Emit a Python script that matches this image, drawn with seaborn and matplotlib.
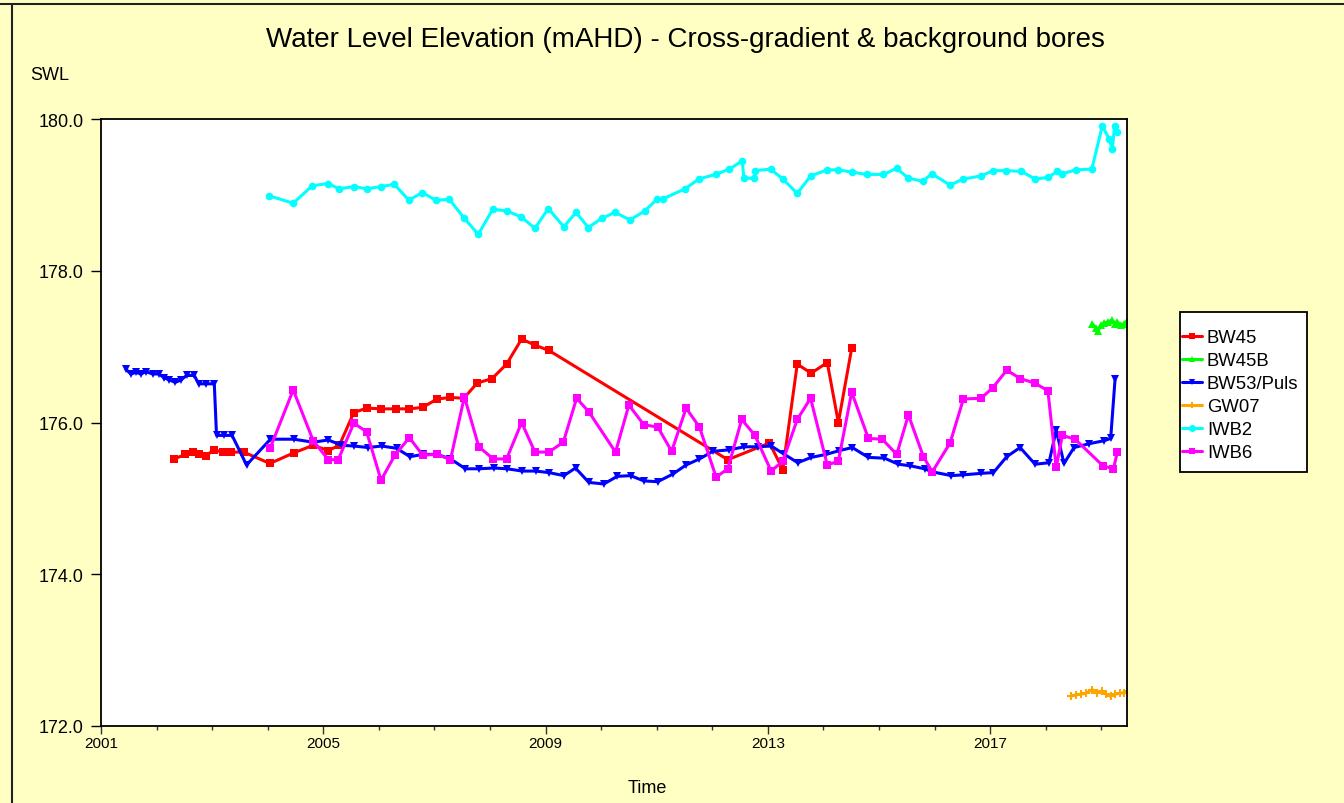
import pandas as pd
import matplotlib
matplotlib.use("Agg")
import matplotlib.pyplot as plt
import matplotlib.ticker as mticker
from matplotlib.lines import Line2D
from matplotlib.patches import Rectangle
import seaborn as sns

# ---------------------------------------------
# DATA (decimal year, SWL in mAHD)
# ---------------------------------------------
bw45_year = [2002.32, 2002.52, 2002.66, 2002.76, 2002.89, 2003.03, 2003.19, 2003.34,
             2003.57, 2004.04, 2004.47, 2004.82, 2005.09, 2005.29, 2005.55, 2005.78,
             2006.04, 2006.31, 2006.55, 2006.79, 2007.05, 2007.29, 2007.53, 2007.77,
             2008.04, 2008.30, 2008.57, 2008.81, 2009.06, 2012.28, 2013.03, 2013.27,
             2013.53, 2013.78, 2014.07, 2014.27, 2014.51]
bw45_swl = [175.52, 175.58, 175.61, 175.58, 175.56, 175.64, 175.61, 175.61,
            175.61, 175.46, 175.60, 175.70, 175.63, 175.70, 176.13, 176.19,
            176.18, 176.18, 176.18, 176.20, 176.31, 176.33, 176.32, 176.52,
            176.58, 176.77, 177.10, 177.02, 176.95, 175.51, 175.73, 175.38,
            176.77, 176.65, 176.79, 176.00, 176.98]

bw45b_year = [2018.84, 2018.90, 2018.95, 2018.99, 2019.05, 2019.13, 2019.19,
              2019.25, 2019.29, 2019.35, 2019.41, 2019.47, 2019.50]
bw45b_swl = [177.30, 177.25, 177.21, 177.28, 177.31, 177.33, 177.35,
             177.30, 177.33, 177.28, 177.30, 177.34, 177.37]

bw53_year = [2001.45, 2001.54, 2001.63, 2001.72, 2001.81, 2001.93, 2002.04, 2002.14,
             2002.23, 2002.34, 2002.44, 2002.54, 2002.68, 2002.76, 2002.89, 2003.04,
             2003.08, 2003.21, 2003.36, 2003.62, 2004.05, 2004.47, 2004.82, 2005.09,
             2005.33, 2005.55, 2005.81, 2006.05, 2006.32, 2006.56, 2006.80, 2007.05,
             2007.29, 2007.56, 2007.80, 2008.07, 2008.31, 2008.58, 2008.82, 2009.06,
             2009.33, 2009.54, 2009.78, 2010.05, 2010.29, 2010.53, 2010.77, 2011.02,
             2011.29, 2011.53, 2011.77, 2012.01, 2012.31, 2012.58, 2012.82, 2013.06,
             2013.30, 2013.54, 2013.78, 2014.05, 2014.29, 2014.52, 2014.81, 2015.10,
             2015.35, 2015.56, 2015.82, 2015.96, 2016.30, 2016.52, 2016.84, 2017.06,
             2017.30, 2017.54, 2017.81, 2018.06, 2018.19, 2018.33, 2018.51, 2018.78,
             2019.05, 2019.17, 2019.25]
bw53_swl = [176.70, 176.64, 176.66, 176.64, 176.67, 176.64, 176.64, 176.59,
            176.56, 176.53, 176.56, 176.62, 176.62, 176.51, 176.51, 176.51,
            175.83, 175.83, 175.83, 175.44, 175.78, 175.78, 175.74, 175.77,
            175.70, 175.69, 175.67, 175.69, 175.66, 175.55, 175.58, 175.58,
            175.52, 175.39, 175.39, 175.40, 175.39, 175.36, 175.36, 175.34,
            175.30, 175.40, 175.21, 175.19, 175.29, 175.30, 175.23, 175.22,
            175.32, 175.44, 175.52, 175.62, 175.64, 175.68, 175.68, 175.69,
            175.58, 175.47, 175.54, 175.58, 175.63, 175.67, 175.54, 175.53,
            175.45, 175.43, 175.39, 175.35, 175.30, 175.31, 175.33, 175.34,
            175.55, 175.67, 175.45, 175.47, 175.90, 175.46, 175.67, 175.72,
            175.76, 175.79, 176.58]

gw07_year = [2018.45, 2018.54, 2018.63, 2018.72, 2018.84, 2018.93, 2019.01,
             2019.09, 2019.17, 2019.25, 2019.33, 2019.41, 2019.49]
gw07_swl = [172.39, 172.41, 172.42, 172.43, 172.48, 172.44, 172.46,
            172.42, 172.39, 172.42, 172.43, 172.44, 172.46]

iwb2_year = [2004.02, 2004.46, 2004.80, 2005.08, 2005.29, 2005.56, 2005.78, 2006.04,
             2006.28, 2006.54, 2006.78, 2007.03, 2007.27, 2007.53, 2007.79, 2008.05,
             2008.30, 2008.56, 2008.81, 2009.05, 2009.33, 2009.55, 2009.77, 2010.01,
             2010.25, 2010.52, 2010.79, 2011.00, 2011.12, 2011.51, 2011.76, 2012.06,
             2012.31, 2012.54, 2012.57, 2012.76, 2012.77, 2013.05, 2013.27, 2013.53,
             2013.77, 2014.07, 2014.27, 2014.52, 2014.78, 2015.08, 2015.32, 2015.53,
             2015.79, 2015.95, 2016.28, 2016.52, 2016.84, 2017.05, 2017.29, 2017.56,
             2017.81, 2018.04, 2018.21, 2018.30, 2018.54, 2018.83, 2019.02, 2019.14,
             2019.20, 2019.24, 2019.29]
iwb2_swl = [178.99, 178.89, 179.12, 179.15, 179.08, 179.11, 179.08, 179.11,
            179.14, 178.93, 179.03, 178.93, 178.94, 178.70, 178.48, 178.81,
            178.79, 178.71, 178.56, 178.82, 178.58, 178.77, 178.57, 178.69,
            178.77, 178.67, 178.79, 178.94, 178.95, 179.08, 179.21, 179.27,
            179.34, 179.45, 179.22, 179.22, 179.32, 179.34, 179.21, 179.02,
            179.25, 179.33, 179.33, 179.30, 179.27, 179.27, 179.35, 179.22,
            179.18, 179.28, 179.13, 179.21, 179.25, 179.32, 179.32, 179.31,
            179.21, 179.23, 179.31, 179.28, 179.33, 179.34, 179.91, 179.74,
            179.60, 179.91, 179.83]

iwb6_year = [2004.05, 2004.46, 2004.82, 2005.09, 2005.27, 2005.55, 2005.78, 2006.04,
             2006.29, 2006.55, 2006.79, 2007.05, 2007.29, 2007.54, 2007.80, 2008.06,
             2008.30, 2008.57, 2008.81, 2009.06, 2009.32, 2009.56, 2009.78, 2010.26,
             2010.50, 2010.77, 2011.02, 2011.27, 2011.53, 2011.77, 2012.07, 2012.28,
             2012.53, 2012.77, 2013.06, 2013.27, 2013.53, 2013.77, 2014.07, 2014.27,
             2014.51, 2014.81, 2015.06, 2015.32, 2015.53, 2015.80, 2015.96, 2016.28,
             2016.52, 2016.84, 2017.05, 2017.30, 2017.54, 2017.80, 2018.04, 2018.19,
             2018.30, 2018.53, 2019.03, 2019.22, 2019.29]
iwb6_swl = [175.67, 176.43, 175.76, 175.51, 175.51, 175.99, 175.88, 175.24,
            175.57, 175.80, 175.57, 175.58, 175.51, 176.34, 175.68, 175.52,
            175.52, 176.00, 175.61, 175.61, 175.74, 176.32, 176.14, 175.61,
            176.23, 175.97, 175.94, 175.62, 176.19, 175.94, 175.28, 175.39,
            176.04, 175.83, 175.36, 175.49, 176.04, 176.32, 175.44, 175.49,
            176.40, 175.79, 175.78, 175.58, 176.10, 175.55, 175.35, 175.73,
            176.31, 176.32, 176.46, 176.69, 176.58, 176.52, 176.42, 175.41,
            175.83, 175.78, 175.43, 175.39, 175.61]

bores = ["BW45", "BW45B", "BW53/Puls", "GW07", "IWB2", "IWB6"]
series = {
    "BW45": (bw45_year, bw45_swl),
    "BW45B": (bw45b_year, bw45b_swl),
    "BW53/Puls": (bw53_year, bw53_swl),
    "GW07": (gw07_year, gw07_swl),
    "IWB2": (iwb2_year, iwb2_swl),
    "IWB6": (iwb6_year, iwb6_swl),
}

COLORS = {
    "BW45": "#FF0000",
    "BW45B": "#00FF00",
    "BW53/Puls": "#0000FF",
    "GW07": "#FFA500",
    "IWB2": "#00FFFF",
    "IWB6": "#FF00FF",
}
MARKERS = {
    "BW45": "s",
    "BW45B": "^",
    "BW53/Puls": "v",
    "GW07": "P",
    "IWB2": "o",
    "IWB6": "s",
}
BG = "#FFFFC4"

df = pd.concat(
    [pd.DataFrame({"year": x, "swl": y, "bore": name}) for name, (x, y) in series.items()],
    ignore_index=True,
)

# ---------------------------------------------
# PLOT
# ---------------------------------------------
sns.set_theme(style="white")
plt.rcParams["font.family"] = ["Liberation Sans", "DejaVu Sans"]
plt.rcParams.update({"text.color": "black", "xtick.color": "black",
                     "ytick.color": "black", "axes.labelcolor": "black"})

fig = plt.figure(figsize=(13.44, 8.04), dpi=100, facecolor=BG)
ax = fig.add_axes([0.0751, 0.0958, 0.8634 - 0.0997, 0.8507 - 0.0958])
ax.set_facecolor("white")

sns.lineplot(data=df, x="year", y="swl", hue="bore", style="bore",
             hue_order=bores, style_order=bores, palette=COLORS,
             markers=MARKERS, dashes=False, sort=False, estimator=None,
             linewidth=2.2, markersize=5.5, markeredgewidth=0,
             legend=False, ax=ax)

ax.set_xlim(2001, 2019.47)
ax.set_ylim(172, 180)
ax.xaxis.set_major_locator(mticker.FixedLocator([2001, 2005, 2009, 2013, 2017]))
ax.xaxis.set_minor_locator(mticker.MultipleLocator(1))
ax.xaxis.set_major_formatter(mticker.FormatStrFormatter("%d"))
ax.yaxis.set_major_locator(mticker.MultipleLocator(2))
ax.yaxis.set_major_formatter(mticker.FormatStrFormatter("%.1f"))
ax.tick_params(axis="y", which="major", direction="out", length=7.5, width=1,
               color="black", labelsize=13, pad=5, left=True)
ax.tick_params(axis="x", which="major", direction="out", length=6, width=1,
               color="#333333", labelsize=11, pad=1, bottom=True)
ax.tick_params(axis="x", which="minor", direction="out", length=3, width=1,
               color="#333333", bottom=True)
ax.set_xlabel("")
ax.set_ylabel("")
for side in ["top", "right", "bottom", "left"]:
    ax.spines[side].set_color("black")
    ax.spines[side].set_linewidth(1.3)

fig.text(685 / 1344, 1 - 40 / 804, "Water Level Elevation (mAHD) - Cross-gradient & background bores",
         ha="center", va="center", fontsize=20)
fig.text(50 / 1344, 1 - 75 / 804, "SWL", ha="center", va="center", fontsize=13)
fig.text(647 / 1344, 1 - 789 / 804, "Time", ha="center", va="center", fontsize=13)

# legend box drawn separately so the padding matches the original
fig.add_artist(Rectangle((1180 / 1344, 1 - 473 / 804), 127 / 1344, 160 / 804,
                         transform=fig.transFigure, facecolor="white",
                         edgecolor="black", linewidth=1.3, zorder=2))
handles = [Line2D([], [], color=COLORS[b], marker=MARKERS[b], lw=2.2,
                  markersize=5, markeredgewidth=0) for b in bores]
leg = fig.legend(handles, bores, loc="upper left",
                 bbox_to_anchor=(1182 / 1344, 1 - 330 / 804),
                 fontsize=13.3, frameon=False,
                 handlelength=1.1, handletextpad=0.25, labelspacing=0.33,
                 borderpad=0, borderaxespad=0)
leg.set_zorder(3)

# window border lines
fig.add_artist(Line2D([0, 1], [1 - 5 / 804, 1 - 5 / 804], color="#222222", lw=1.5,
                      transform=fig.transFigure))
fig.add_artist(Line2D([12 / 1344, 12 / 1344], [0, 1 - 5 / 804], color="#222222", lw=1.5,
                      transform=fig.transFigure))

fig.savefig("out.png", dpi=100, facecolor=BG)
